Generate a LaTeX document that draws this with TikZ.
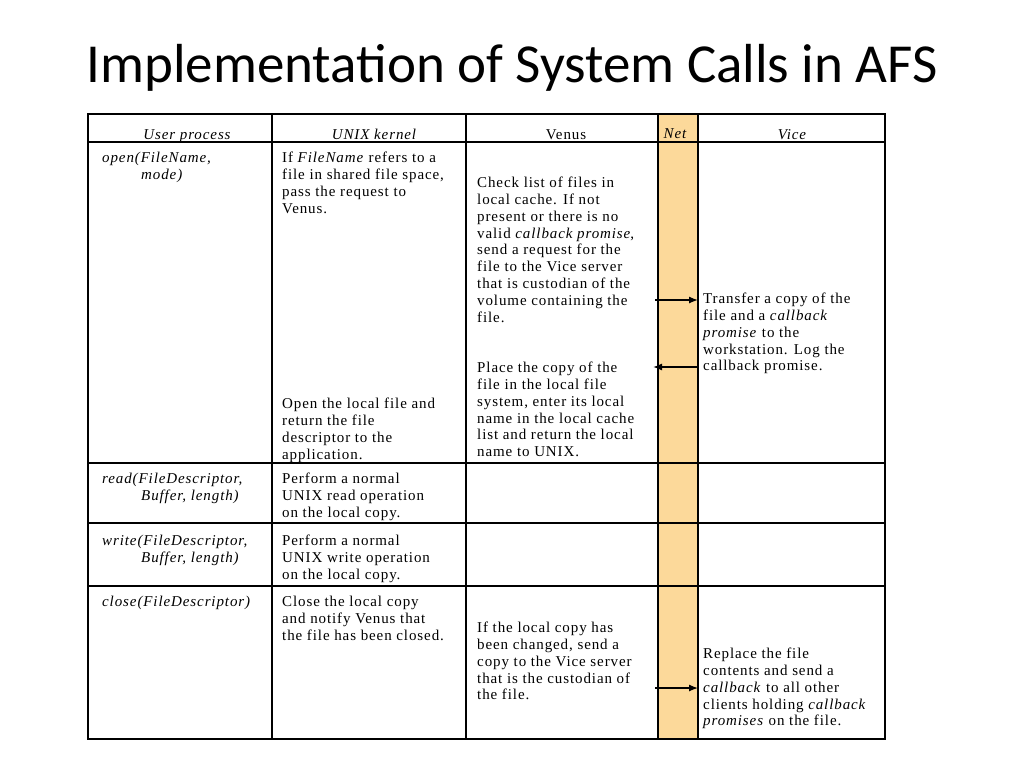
\documentclass[tikz,border=0pt]{standalone}
\usepackage{fontspec}
\setmainfont{Liberation Serif}[LetterSpace=6]
\newfontfamily\titlefont{Carlito}
\usetikzlibrary{arrows.meta}
\definecolor{netfill}{HTML}{FCD99A}
\begin{document}
\begin{tikzpicture}[x=1pt,y=-1pt,
  cell/.style={anchor=north west,align=left,inner sep=0pt,font=\fontsize{15}{16.8}\selectfont},
  head/.style={anchor=base,inner sep=0pt,font=\fontsize{15}{17}\selectfont\itshape},
  grid/.style={line width=1.5pt},
  msg/.style={line width=1.3pt,-{Latex[length=9pt,width=7pt]}}]
\useasboundingbox (0,0) rectangle (1024,768);
\node (title) at (512,68) {\titlefont\fontsize{55}{60}\selectfont Implementation of System Calls in AFS};
\fill[netfill] (658,114) rectangle (698,739);
\draw[grid] (88,114) rectangle (885,739);
\foreach \x in {272,466,658,698} \draw[grid] (\x,114) -- (\x,739);
\foreach \y in {142,463,523,586} \draw[grid] (88,\y) -- (885,\y);
\node[head] (h1) at (187,139) {User process};
\node[head] (h2) at (374,139) {UNIX kernel};
\node[head,font=\fontsize{15}{17}\selectfont] (h3) at (566,139) {Venus};
\node[head] (h4) at (675,138) {Net};
\node[head] (h5) at (792,139) {Vice};
\node[cell] (a1) at (102,152) {\textit{open(FileName,}\\\hspace{2.6em}\textit{mode)}};
\node[cell] (b1) at (282,152) {If \textit{FileName} refers to a\\file in shared file space,\\pass the request to\\Venus.};
\node[cell] (b2) at (282,398) {Open the local file and\\return the file\\descriptor to the\\application.};
\node[cell] (c1) at (477,177) {Check list of files in\\local cache. If not\\present or there is no\\valid \textit{callback promise},\\send a request for the\\file to the Vice server\\that is custodian of the\\volume containing the\\file.};
\node[cell] (c2) at (477,362) {Place the copy of the\\file in the local file\\system, enter its local\\name in the local cache\\list and return the local\\name to UNIX.};
\node[cell] (e1) at (703,293) {Transfer a copy of the\\file and a \textit{callback}\\\textit{promise} to the\\workstation. Log the\\callback promise.};
\node[cell] (a2) at (102,473) {\textit{read(FileDescriptor,}\\\hspace{2.6em}\textit{Buffer, length)}};
\node[cell] (b3) at (282,473) {Perform a normal\\UNIX read operation\\on the local copy.};
\node[cell] (a3) at (102,535) {\textit{write(FileDescriptor,}\\\hspace{2.6em}\textit{Buffer, length)}};
\node[cell] (b4) at (282,535) {Perform a normal\\UNIX write operation\\on the local copy.};
\node[cell] (a4) at (102,596) {\textit{close(FileDescriptor)}};
\node[cell] (b5) at (282,596) {Close the local copy\\and notify Venus that\\the file has been closed.};
\node[cell] (c3) at (477,622) {If the local copy has\\been changed, send a\\copy to the Vice server\\that is the custodian of\\the file.};
\node[cell] (e2) at (703,648) {Replace the file\\contents and send a\\\textit{callback} to all other\\clients holding \textit{callback}\\\textit{promises} on the file.};
\coordinate (p1) at (655,300); \coordinate (q1) at (698,300);
\coordinate (p2) at (698,367); \coordinate (q2) at (653,367);
\coordinate (p3) at (655,688); \coordinate (q3) at (698,688);
\draw[msg] (p1) -- (q1);
\draw[msg] (p2) -- (q2);
\draw[msg] (p3) -- (q3);
\end{tikzpicture}
\end{document}
